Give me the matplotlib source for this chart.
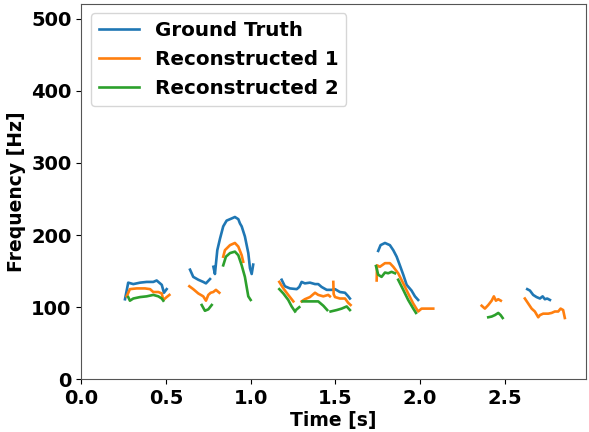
import numpy as np
import matplotlib
matplotlib.use("Agg")
import matplotlib.pyplot as plt

nan = np.nan

gt_t = [0.258, 0.277, 0.307, 0.347, 0.386, 0.425, 0.445, 0.475, 0.488, 0.504, nan,
        0.642, 0.661, 0.691, 0.720, 0.736, 0.760, nan,
        0.780, 0.789, 0.803, 0.819, 0.838, 0.858, 0.888, 0.907, 0.927, 0.937, 0.947, 0.966, 0.986, 0.996, 1.006, 1.015, nan,
        1.183, 1.202, 1.232, 1.272, 1.287, 1.301, 1.320, 1.350, 1.380, 1.399, 1.419, 1.449, 1.478, 1.498, 1.527, 1.557, 1.576, 1.586, nan,
        1.753, 1.767, 1.793, 1.822, 1.842, 1.862, 1.881, 1.901, 1.921, 1.950, 1.970, 1.989, nan,
        2.633, 2.649, 2.668, 2.688, 2.708, 2.724, 2.737, 2.751, 2.767]
gt_f = [111, 134, 132, 134, 135, 135, 137, 131, 120, 125, nan,
        152, 142, 138, 135, 133, 139, nan,
        156, 146, 179, 195, 212, 220, 223, 225, 222, 216, 212, 198, 175, 154, 146, 159, nan,
        138, 129, 126, 125, 128, 135, 133, 134, 132, 132, 128, 124, 124, 125, 121, 120, 115, 112, nan,
        178, 186, 189, 186, 179, 170, 158, 145, 131, 123, 115, 110, nan,
        125, 123, 117, 114, 112, 115, 111, 112, 110]

r1_t = [0.268, 0.287, 0.327, 0.376, 0.406, 0.425, 0.455, 0.475, 0.484, 0.504, 0.520, nan,
        0.638, 0.661, 0.691, 0.720, 0.736, 0.750, 0.764, 0.779, 0.795, 0.815, nan,
        0.838, 0.848, 0.878, 0.907, 0.927, 0.947, 0.956, nan,
        1.169, 1.193, 1.222, 1.252, nan,
        1.301, 1.320, 1.350, 1.380, 1.399, 1.429, 1.458, 1.468, nan,
        1.488, 1.490, 1.498, 1.527, 1.557, 1.576, 1.590, nan,
        1.744, 1.746, 1.763, 1.793, 1.822, 1.842, 1.871, 1.901, 1.930, 1.960, 1.989, 2.009, 2.039, 2.078, nan,
        2.364, 2.383, 2.403, 2.423, 2.436, 2.448, 2.462, 2.477, nan,
        2.619, 2.639, 2.659, 2.678, 2.698, 2.708, 2.727, 2.757, 2.777, 2.796, 2.816, 2.830, 2.845, 2.855]
r1_f = [115, 125, 126, 126, 125, 121, 121, 119, 110, 114, 117, nan,
        129, 125, 119, 115, 109, 117, 120, 121, 124, 120, nan,
        170, 179, 186, 189, 184, 172, 163, nan,
        135, 126, 117, 108, nan,
        108, 111, 114, 120, 117, 115, 117, 115, nan,
        135, 118, 114, 112, 112, 106, 103, nan,
        137, 158, 156, 161, 161, 156, 147, 133, 119, 105, 94, 98, 98, 98, nan,
        102, 98, 103, 109, 115, 109, 111, 109, nan,
        112, 105, 98, 94, 86, 89, 91, 91, 92, 94, 94, 98, 96, 85]

r2_t = [0.277, 0.287, 0.307, 0.347, 0.386, 0.425, 0.455, 0.475, 0.484, nan,
        0.711, 0.730, 0.750, 0.770, nan,
        0.838, 0.854, 0.878, 0.907, 0.927, 0.947, 0.966, 0.986, 1.000, nan,
        1.169, 1.193, 1.222, 1.242, 1.262, nan,
        1.272, 1.287, nan,
        1.307, 1.350, 1.399, 1.429, 1.452, nan,
        1.472, 1.508, 1.537, 1.567, 1.586, nan,
        1.740, 1.753, 1.773, 1.793, 1.812, 1.832, 1.852, nan,
        1.871, 1.901, 1.930, 1.960, 1.976, nan,
        2.403, 2.423, 2.442, 2.462, 2.476, 2.488]
r2_f = [114, 109, 112, 114, 115, 117, 115, 112, 109, nan,
        103, 95, 97, 103, nan,
        158, 170, 175, 177, 172, 158, 142, 115, 110, nan,
        125, 119, 110, 101, 94, nan,
        97, 100, nan,
        108, 108, 108, 102, 96, nan,
        94, 96, 98, 101, 96, nan,
        157, 145, 142, 148, 147, 149, 147, nan,
        138, 124, 110, 98, 92, nan,
        86, 87, 89, 92, 89, 85]

labels = ["Ground Truth", "Reconstructed 1", "Reconstructed 2"]

plt.rcParams['font.weight'] = 'bold'
plt.rcParams['axes.labelweight'] = 'bold'
plt.rcParams['font.size'] = 14

fig = plt.figure(figsize=(5.89, 4.32), dpi=100)
ax = fig.add_axes([81.3 / 589, (432 - 379.3) / 432, (586 - 81.3) / 589, (379.3 - 3.5) / 432])

ax.plot(gt_t, gt_f, color='tab:blue', lw=1.9, label=labels[0])
ax.plot(r1_t, r1_f, color='tab:orange', lw=1.9, label=labels[1])
ax.plot(r2_t, r2_f, color='tab:green', lw=1.9, label=labels[2])

ax.set_xlim(0, 2.98)
ax.set_ylim(0, 521)
ax.set_xticks([0.0, 0.5, 1.0, 1.5, 2.0, 2.5])
ax.set_yticks([0, 100, 200, 300, 400, 500])
ax.set_xlabel("Time [s]", fontsize=13.5, labelpad=2)
ax.set_ylabel("Frequency [Hz]", fontsize=13.5)
for lab in ax.get_xticklabels() + ax.get_yticklabels():
    lab.set_fontweight('bold')
for sp in ax.spines.values():
    sp.set_color('#555555')
ax.legend(loc='upper left', prop={'weight': 'bold', 'size': 14.3})

fig.savefig("out.png", dpi=100)
